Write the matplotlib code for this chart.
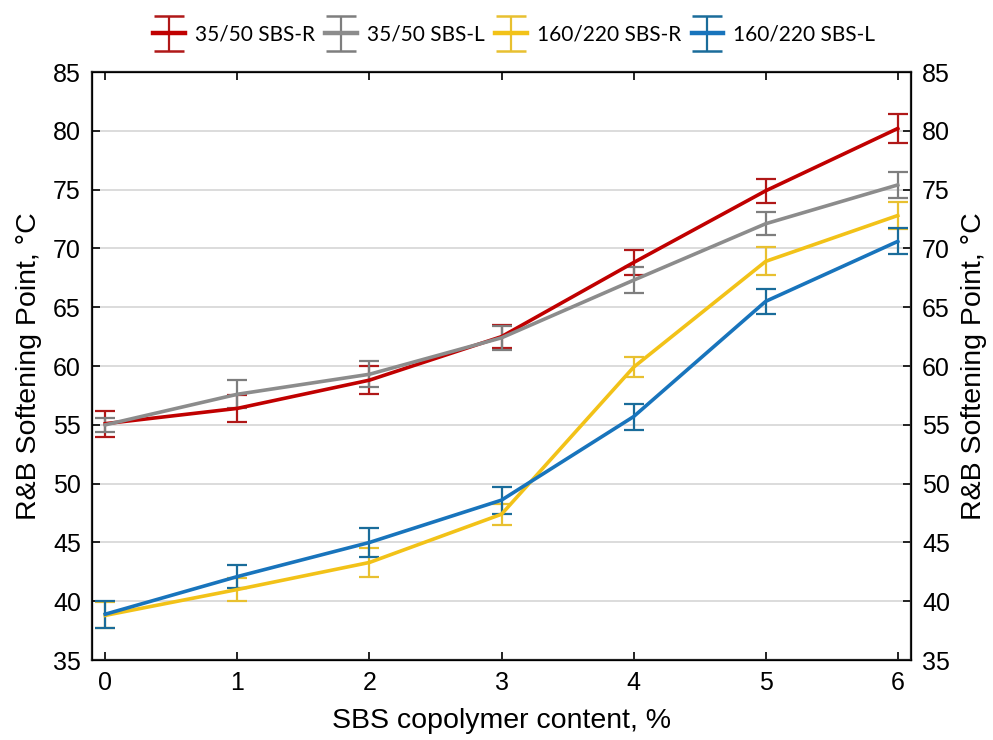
import numpy as np
import matplotlib.pyplot as plt
from matplotlib.container import ErrorbarContainer
from matplotlib.legend_handler import HandlerErrorbar

plt.rcParams["font.family"] = ["Liberation Sans", "DejaVu Sans"]

sbs_content = [0, 1, 2, 3, 4, 5, 6]

r35_mean = [55.1, 56.4, 58.8, 62.5, 68.8, 74.9, 80.2]
r35_err = [1.1, 1.15, 1.2, 1.0, 1.05, 1.0, 1.25]
l35_mean = [55.0, 57.6, 59.3, 62.4, 67.3, 72.1, 75.4]
l35_err = [0.6, 1.2, 1.1, 1.0, 1.1, 1.0, 1.1]
r160_mean = [38.8, 41.0, 43.3, 47.4, 59.9, 68.9, 72.8]
r160_err = [1.1, 1.0, 1.2, 0.9, 0.85, 1.2, 1.15]
l160_mean = [38.9, 42.1, 45.0, 48.6, 55.7, 65.5, 70.6]
l160_err = [1.15, 1.0, 1.2, 1.15, 1.1, 1.05, 1.1]

series_names = ["35/50 SBS-R", "35/50 SBS-L", "160/220 SBS-R", "160/220 SBS-L"]
line_colors = ["#C00000", "#8C8C8C", "#F2C218", "#1874BC"]
err_colors = ["#B01818", "#7E7E7E", "#E8C030", "#1A6C9A"]

y_ticks = [35, 40, 45, 50, 55, 60, 65, 70, 75, 80, 85]

fig = plt.figure(figsize=(9.93, 7.40), dpi=100)
ax = fig.add_axes([0.0927, 0.108, 0.8247, 0.7947])

means = [r35_mean, l35_mean, r160_mean, l160_mean]
errs = [r35_err, l35_err, r160_err, l160_err]
legend_handles = []
for name, m, e, lc, ec in zip(series_names, means, errs, line_colors, err_colors):
    ax.errorbar(sbs_content, m, yerr=e, color=lc, ecolor=ec, lw=2.6,
                elinewidth=1.6, capsize=7.5, capthick=1.6)
    # bigger proxy for the legend key
    h = ax.errorbar([np.nan], [np.nan], yerr=[1], color=lc, ecolor=ec, lw=3.2,
                    elinewidth=1.6, capsize=10.8, capthick=1.8, label=name)
    legend_handles.append(h)

ax.set_xlim(-0.1, 6.1)
ax.set_ylim(35, 85)
ax.set_yticks(y_ticks)
ax.set_xticks(sbs_content)
ax.yaxis.grid(True, color="#D6D6D6", lw=1.2)
ax.set_axisbelow(True)
ax.tick_params(direction="in", length=6, width=1.4, labelsize=18, pad=8,
               top=True, right=False, colors="#222222", labelcolor="black")
for sp in ax.spines.values():
    sp.set_linewidth(1.6)
    sp.set_color("#222222")

ax.set_xlabel("SBS copolymer content, %", fontsize=20.5, labelpad=9)
ax.set_ylabel("R&B Softening Point, °C", fontsize=20.5, labelpad=8)

ax2 = ax.twinx()
ax2.set_ylim(35, 85)
ax2.set_yticks(y_ticks)
ax2.tick_params(direction="in", length=6, width=1.4, labelsize=18, pad=8,
                colors="#222222", labelcolor="black")
ax2.set_ylabel("R&B Softening Point, °C", fontsize=20.5, labelpad=8)

leg = fig.legend(legend_handles, series_names, loc="center",
                 bbox_to_anchor=(0.518, 0.953), ncol=4, frameon=False,
                 handlelength=1.5, handletextpad=0.5, columnspacing=0.5,
                 handler_map={ErrorbarContainer: HandlerErrorbar(yerr_size=0.85)},
                 prop={"family": "Lato", "size": 15})

fig.savefig("out.png", dpi=100)
